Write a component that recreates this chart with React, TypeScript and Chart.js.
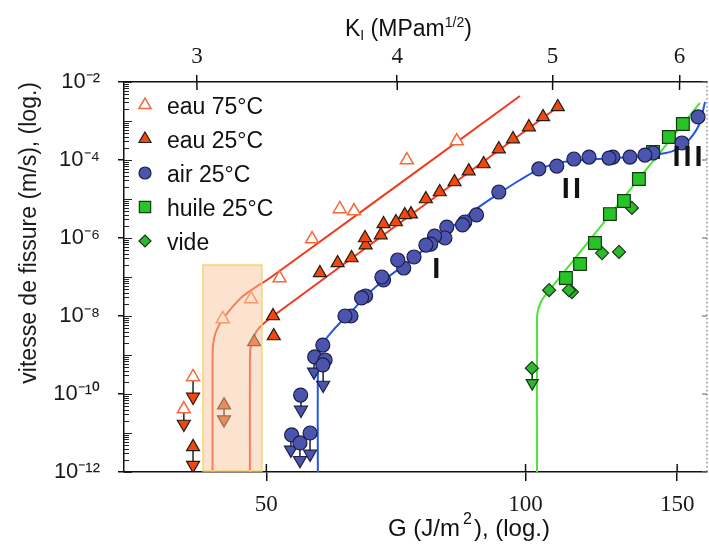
import React, { useEffect, useRef } from 'react';
import { Chart, registerables } from 'chart.js';
import { drawPoint } from 'chart.js/helpers';

Chart.register(...registerables);

// ---------------- data ----------------
const gRange = [34.17, 162.45];
const kRange = [2.7016, 6.2413];
const vRange = [1e-12, 1e-2];
const gTicks = [50, 100, 150];
const kTicks = [3, 4, 5, 6];
const vTickExps = [-12, -10, -8, -6, -4, -2];

const eau75G = [83.2, 72.8, 63.2, 60.85, 56.5, 51.8, 48.0, 44.5, 41.1, 40.1];
const eau75V = [3.07e-4, 1.0e-4, 4.9e-6, 5.55e-6, 9.4e-7, 9.4e-8, 2.73e-8, 8.4e-9, 2.73e-10, 4.1e-11];

const eau25G = [109.0, 104.8, 100.9, 96.7, 93.1, 89.4, 85.9, 82.7, 79.5, 76.6, 73.6, 72.4, 70.7, 68.4, 67.9, 65.2, 65.1, 62.8, 60.5, 57.7, 50.9, 51.0, 48.4, 41.1, 44.65];
const eau25V = [2.29e-3, 1.27e-3, 7.0e-4, 3.45e-4, 1.91e-4, 7.9e-5, 5.2e-5, 2.73e-5, 1.51e-5, 1.0e-5, 4.1e-6, 3.9e-6, 2.57e-6, 2.29e-6, 1.19e-6, 6.6e-7, 1.0e-6, 3.07e-7, 2.29e-7, 1.27e-7, 1.0e-8, 3.07e-9, 2.16e-9, 4.4e-12, 5.2e-11];

const airG = [158.6, 151.9, 140.6, 137.6, 132.2, 126.3, 125.0, 118.5, 113.8, 108.7, 103.6, 93.1, 87.7, 85.0, 84.5, 81.0, 80.6, 78.4, 77.6, 76.6, 74.2, 72.2, 71.05, 68.4, 68.1, 65.2, 64.5, 62.7, 61.7, 58.15, 56.9, 58.5, 58.15, 54.8, 53.5, 54.7, 56.2];
const airV = [1.27e-3, 2.73e-4, 1.51e-4, 1.34e-4, 1.19e-4, 1.19e-4, 1.12e-4, 1.19e-4, 1.06e-4, 7.0e-5, 5.9e-5, 1.51e-5, 3.9e-6, 2.57e-6, 2.16e-6, 1.91e-6, 1.0e-6, 1.12e-6, 7.0e-7, 6.6e-7, 3.26e-7, 1.7e-7, 2.73e-7, 8.4e-8, 1.0e-7, 3.26e-8, 2.9e-8, 1.0e-8, 1.0e-8, 1.8e-9, 8.9e-10, 7.45e-10, 5.55e-10, 9.4e-11, 8.9e-12, 5.55e-12, 1.0e-11];

const huileG = [152.3, 146.7, 140.6, 135.4, 130.1, 125.3, 120.4, 115.7, 111.4];
const huileV = [8.4e-4, 3.9e-4, 1.6e-4, 3.26e-5, 8.9e-6, 4.1e-6, 7.45e-7, 2.16e-7, 9.4e-8];

const videG = [132.9, 128.4, 122.7, 113.2, 112.3, 106.5, 101.7];
const videV = [5.9e-6, 4.4e-7, 4.1e-7, 4.1e-8, 4.6e-8, 4.6e-8, 4.6e-10];

// upper limits (measured point -> arrow)
const eauLimG = [41.1, 40.1, 41.1, 44.65];
const eauLimFromV = [2.73e-10, 4.1e-11, 4.4e-12, 5.2e-11];
const eauLimV = [8.4e-11, 1.7e-11, 1.5e-12, 2.2e-11];
const airLimG = [56.8, 58.2, 54.85, 53.4, 54.7, 56.2];
const airLimFromV = [8.9e-10, 5.55e-10, 9.4e-11, 8.9e-12, 5.55e-12, 1.0e-11];
const airLimV = [3.7e-10, 1.7e-10, 3.9e-11, 3.7e-12, 2.0e-12, 2.9e-12];
const videLimG = [101.8];
const videLimFromV = [4.6e-10];
const videLimV = [1.9e-10];

// fitted curves
const eau75CurveG = [43.3, 43.3, 43.36, 43.64, 44.29, 45.36, 46.84, 48.62, 50.48, 98.5];
const eau75CurveV = [1e-12, 6.6e-10, 1.8e-9, 3.66e-9, 7.0e-9, 1.43e-8, 3.07e-8, 5.55e-8, 9.4e-8, 4.37e-3];
const eau25CurveG = [47.85, 47.85, 47.98, 48.36, 49.14, 50.21, 51.84, 109.0];
const eau25CurveV = [1e-12, 8.4e-10, 1.8e-9, 3.07e-9, 5.23e-9, 7.9e-9, 1.34e-8, 2.29e-3];
const airCurveG = [57.38, 57.38, 57.61, 58.15, 59.25, 60.85, 62.84, 65.23, 68.26, 73.37, 80.99, 87.27, 93.34, 98.51, 103.92, 110.5, 121.0, 132.2, 143.25, 149.1, 154.0, 159.0, 161.6];
const airCurveV = [1e-12, 8.4e-10, 1.34e-9, 2.03e-9, 3.45e-9, 6.6e-9, 1.34e-8, 3.26e-8, 7.9e-8, 2.57e-7, 1.51e-6, 5.23e-6, 1.43e-5, 3.07e-5, 5.9e-5, 8.9e-5, 1.06e-4, 1.19e-4, 1.43e-4, 1.8e-4, 2.9e-4, 7.9e-4, 3.07e-3];
const greenCurveG = [103.1, 103.1, 103.4, 104.2, 105.3, 159.4];
const greenCurveV = [1e-12, 7.9e-9, 1.43e-8, 2.29e-8, 3.26e-8, 2.9e-3];

// shaded threshold zone
const boxG = [42.21, 49.4];
const boxV = [1e-12, 2.03e-7];

// regime labels
const regimeLabels = ['I', 'II', 'III'];
const regimeG = [79.06, 113.5, 154.8];
const regimeV = [1.51e-7, 1.7e-5, 1.12e-4];

const legendLabels = ['eau 75°C', 'eau 25°C', 'air 25°C', 'huile 25°C', 'vide'];

// ---------------- styles ----------------
const SANS = '"Liberation Sans", Arial, Helvetica, sans-serif';
const SERIF = '"Liberation Serif", "Times New Roman", serif';
const C75 = '#F5693A';
const C25 = '#F2470F';
const CAIR = '#4B55AE';
const CHUILE = '#27C427';
const CVIDE = '#2EB82E';
const EDGE = '#241a14';
const LINE_RED = '#F2391C';
const LINE_BLUE = '#2257E6';
const LINE_GREEN = '#4CE33A';

const legendStyles = [
  { pointStyle: 'triangle', radius: 7, bg: '#ffffff', border: C75, bw: 1.5 },
  { pointStyle: 'triangle', radius: 7, bg: C25, border: EDGE, bw: 1.2 },
  { pointStyle: 'circle', radius: 6, bg: CAIR, border: '#1b1d4a', bw: 1.2 },
  { pointStyle: 'rect', radius: 8, bg: CHUILE, border: '#143a14', bw: 1.2 },
  { pointStyle: 'rectRot', radius: 6, bg: CVIDE, border: '#143a14', bw: 1.2 },
];

const pts = (G: number[], V: number[]) => G.map((g, i) => ({ x: g, y: V[i] }));
const pairs = (G: number[], A: number[], B: number[]) => {
  const out: any[] = [];
  G.forEach((g, i) => {
    out.push({ x: g, y: A[i] });
    out.push({ x: g, y: B[i] });
    out.push({ x: g, y: null });
  });
  return out;
};

const supMap: Record<string, string> = { '-': '⁻', '0': '⁰', '1': '¹', '2': '²', '3': '³', '4': '⁴', '5': '⁵', '6': '⁶', '7': '⁷', '8': '⁸', '9': '⁹' };
const powLabel = (v: number) => {
  const e = Math.round(Math.log10(v));
  return '10' + String(e).split('').map((c) => supMap[c] || c).join('');
};

const overlayPlugin = {
  id: 'overlay',
  afterDatasetsDraw(chart: any) {
    const { ctx } = chart;
    const x = chart.scales.x;
    const y = chart.scales.y;
    ctx.save();
    const bx0 = x.getPixelForValue(boxG[0]);
    const bx1 = x.getPixelForValue(boxG[1]);
    const by0 = y.getPixelForValue(boxV[1]);
    const by1 = y.getPixelForValue(boxV[0]) - 1;
    ctx.fillStyle = 'rgba(250,200,160,0.5)';
    ctx.fillRect(bx0, by0, bx1 - bx0, by1 - by0);
    ctx.strokeStyle = '#F8D46C';
    ctx.lineWidth = 1.5;
    ctx.strokeRect(bx0, by0, bx1 - bx0, by1 - by0);

    ctx.fillStyle = '#111';
    ctx.font = 'bold 29px ' + SANS;
    ctx.textAlign = 'center';
    ctx.textBaseline = 'middle';
    try { (ctx as any).letterSpacing = '3px'; } catch (e) {}
    regimeLabels.forEach((t, i) => {
      ctx.fillText(t, x.getPixelForValue(regimeG[i]), y.getPixelForValue(regimeV[i]));
    });
    try { (ctx as any).letterSpacing = '0px'; } catch (e) {}
    ctx.restore();
  },
  afterDraw(chart: any) {
    const { ctx, chartArea } = chart;
    const { left, right, top, bottom } = chartArea;
    const x = chart.scales.x;
    const x2 = chart.scales.x2;
    const y = chart.scales.y;
    const seg = (a: number, b: number, c: number, d: number) => {
      ctx.beginPath();
      ctx.moveTo(a, b);
      ctx.lineTo(c, d);
      ctx.stroke();
    };
    ctx.save();
    // left axis minor / inward ticks
    ctx.strokeStyle = '#222';
    ctx.lineWidth = 1;
    for (let e = -12; e <= -2; e++) {
      for (let k = 1; k <= 9; k++) {
        const v = k * Math.pow(10, e);
        if (v > 1.0001e-2) break;
        const py = Math.round(y.getPixelForValue(v)) + 0.5;
        seg(left, py, left + (k === 1 ? 8 : 5), py);
      }
    }
    // inward major ticks on x axes
    ctx.lineWidth = 1.5;
    ctx.strokeStyle = '#111';
    gTicks.forEach((g) => {
      const px = x.getPixelForValue(g);
      seg(px, bottom, px, bottom - 8);
    });
    kTicks.forEach((k) => {
      const px = x2.getPixelForValue(k);
      seg(px, top, px, top + 8);
    });
    // right frame (dotted)
    ctx.strokeStyle = '#777';
    ctx.lineWidth = 1.2;
    ctx.setLineDash([1.5, 2.5]);
    seg(right, top, right, bottom);
    ctx.setLineDash([]);
    vTickExps.forEach((e) => {
      const py = y.getPixelForValue(Math.pow(10, e));
      seg(right, py, right - 5, py);
    });

    // legend
    legendLabels.forEach((lab, i) => {
      const st = legendStyles[i];
      const cy = top + 23 + i * 34;
      ctx.fillStyle = st.bg;
      ctx.strokeStyle = st.border;
      ctx.lineWidth = st.bw;
      drawPoint(ctx, { pointStyle: st.pointStyle as any, radius: st.radius, rotation: 0, borderWidth: st.bw }, left + 21, cy);
      ctx.fillStyle = '#111';
      ctx.font = '23px ' + SANS;
      ctx.textAlign = 'left';
      ctx.textBaseline = 'middle';
      ctx.fillText(lab, left + 43, cy + 3);
    });

    // bottom title: G (J/m^2), (log.)
    ctx.fillStyle = '#111';
    ctx.textBaseline = 'alphabetic';
    ctx.textAlign = 'left';
    let bx = 388;
    const bBase = 536;
    ctx.font = '24px ' + SANS;
    ctx.fillText('G (J/m', bx, bBase);
    bx += ctx.measureText('G (J/m').width + 3;
    ctx.font = '16px ' + SANS;
    ctx.fillText('2', bx, bBase - 12);
    bx += ctx.measureText('2').width + 2;
    ctx.font = '24px ' + SANS;
    ctx.fillText('), (log.)', bx, bBase);

    // top title: K_I (MPam^1/2)
    let tx = 345;
    const tBase = 36;
    ctx.font = '23px ' + SANS;
    ctx.fillText('K', tx, tBase);
    tx += ctx.measureText('K').width;
    ctx.font = '14px ' + SANS;
    ctx.fillText('I', tx, tBase + 4);
    tx += ctx.measureText('I').width;
    ctx.font = '23px ' + SANS;
    ctx.fillText(' (MPam', tx, tBase);
    tx += ctx.measureText(' (MPam').width;
    ctx.font = '14px ' + SANS;
    ctx.fillText('1/2', tx, tBase - 9);
    tx += ctx.measureText('1/2').width;
    ctx.font = '23px ' + SANS;
    ctx.fillText(')', tx, tBase);
    ctx.restore();
  },
};

function buildConfig(): any {
  const marker = (label: string, data: any[], style: string, r: number, bg: string, border: string, bw: number, rot = 0) => ({
    type: 'scatter',
    label,
    data,
    pointStyle: style,
    pointRadius: r,
    pointHoverRadius: r,
    pointRotation: rot,
    backgroundColor: bg,
    borderColor: border,
    pointBackgroundColor: bg,
    pointBorderColor: border,
    pointBorderWidth: bw,
    showLine: false,
    order: 1,
  });
  const curve = (label: string, G: number[], V: number[], color: string) => ({
    type: 'line',
    label,
    data: pts(G, V),
    borderColor: color,
    borderWidth: 2,
    pointRadius: 0,
    pointHoverRadius: 0,
    tension: 0.25,
    fill: false,
    order: 4,
  });
  const connector = (label: string, data: any[]) => ({
    type: 'line',
    label,
    data,
    borderColor: '#222',
    borderWidth: 1.5,
    pointRadius: 0,
    pointHoverRadius: 0,
    spanGaps: false,
    fill: false,
    order: 3,
  });
  const noPadX = (h: number) => (s: any) => { s.height = h; s.paddingLeft = 0; s.paddingRight = 0; };

  return {
    type: 'scatter',
    data: {
      datasets: [
        marker('eau 75°C', pts(eau75G, eau75V), 'triangle', 7.5, '#ffffff', C75, 1.5),
        marker('eau 25°C', pts(eau25G, eau25V), 'triangle', 7.5, C25, EDGE, 1.2),
        marker('air 25°C', pts(airG, airV), 'circle', 7, CAIR, '#1b1d4a', 1.2),
        marker('huile 25°C', pts(huileG, huileV), 'rect', 9, CHUILE, '#143a14', 1.2),
        marker('vide', pts(videG, videV), 'rectRot', 6.5, CVIDE, '#143a14', 1.2),
        { ...marker('eau limite', pts(eauLimG, eauLimV), 'triangle', 7.5, C25, EDGE, 1.2, 180), order: 2 },
        { ...marker('air limite', pts(airLimG, airLimV), 'triangle', 7.5, CAIR, '#1b1d4a', 1.2, 180), order: 2 },
        { ...marker('vide limite', pts(videLimG, videLimV), 'triangle', 7, CVIDE, '#143a14', 1.2, 180), order: 2 },
        connector('eau lien', pairs(eauLimG, eauLimFromV, eauLimV)),
        connector('air lien', pairs(airLimG, airLimFromV, airLimV)),
        connector('vide lien', pairs(videLimG, videLimFromV, videLimV)),
        curve('eau 75°C fit', eau75CurveG, eau75CurveV, LINE_RED),
        curve('eau 25°C fit', eau25CurveG, eau25CurveV, LINE_RED),
        curve('air 25°C fit', airCurveG, airCurveV, LINE_BLUE),
        curve('huile/vide fit', greenCurveG, greenCurveV, LINE_GREEN),
      ],
    },
    options: {
      animation: false,
      responsive: true,
      maintainAspectRatio: false,
      events: [],
      layout: { autoPadding: false, padding: { left: 0, right: 2, top: 0, bottom: 0 } },
      plugins: { legend: { display: false }, tooltip: { enabled: false }, title: { display: false } },
      scales: {
        x: {
          type: 'logarithmic',
          position: 'bottom',
          min: gRange[0],
          max: gRange[1],
          bounds: 'data',
          afterBuildTicks: (s: any) => { s.ticks = gTicks.map((v) => ({ value: v })); },
          afterFit: noPadX(77),
          ticks: {
            autoSkip: false, maxRotation: 0, minRotation: 0, padding: 10, color: '#1a1a1a',
            font: { family: SERIF, size: 23 },
            callback: (v: any) => String(v),
          },
          grid: { display: true, drawOnChartArea: false, drawTicks: true, tickLength: 9, color: '#111', lineWidth: 1.5 },
          border: { display: true, color: '#111', width: 1.5 },
        },
        x2: {
          type: 'logarithmic',
          position: 'top',
          min: kRange[0],
          max: kRange[1],
          bounds: 'data',
          afterBuildTicks: (s: any) => { s.ticks = kTicks.map((v) => ({ value: v })); },
          afterFit: noPadX(82),
          ticks: {
            autoSkip: false, maxRotation: 0, minRotation: 0, padding: 4, color: '#1a1a1a',
            font: { family: SERIF, size: 23 },
            callback: (v: any) => String(v),
          },
          grid: { display: true, drawOnChartArea: false, drawTicks: true, tickLength: 7, color: '#111', lineWidth: 1.5 },
          border: { display: true, color: '#111', width: 1.5 },
        },
        y: {
          type: 'logarithmic',
          position: 'left',
          min: vRange[0],
          max: vRange[1],
          bounds: 'data',
          afterBuildTicks: (s: any) => { s.ticks = vTickExps.map((e) => ({ value: Math.pow(10, e) })); },
          afterFit: (s: any) => { s.width = 124; s.paddingTop = 0; s.paddingBottom = 0; },
          ticks: {
            autoSkip: false, padding: 18, color: '#1a1a1a',
            font: { family: SANS, size: 22 },
            callback: (v: any) => powLabel(Number(v)),
          },
          grid: { display: true, drawOnChartArea: false, drawTicks: true, tickLength: 6, color: '#111', lineWidth: 1.5 },
          border: { display: true, color: '#111', width: 1.5 },
          title: {
            display: true,
            text: 'vitesse de fissure (m/s), (log.)',
            align: 'end',
            color: '#1a1a1a',
            font: { family: SANS, size: 23 },
            padding: { top: 16, bottom: 0 },
          },
        },
      },
    },
    plugins: [overlayPlugin],
  };
}

export default function App() {
  const ref = useRef<HTMLCanvasElement>(null);
  useEffect(() => {
    const chart = new Chart(ref.current as HTMLCanvasElement, buildConfig());
    return () => chart.destroy();
  }, []);
  return (
    <div style={{ position: 'fixed', left: 0, top: 0, width: 709, height: 549, background: '#fff' }}>
      <canvas ref={ref} />
    </div>
  );
}
